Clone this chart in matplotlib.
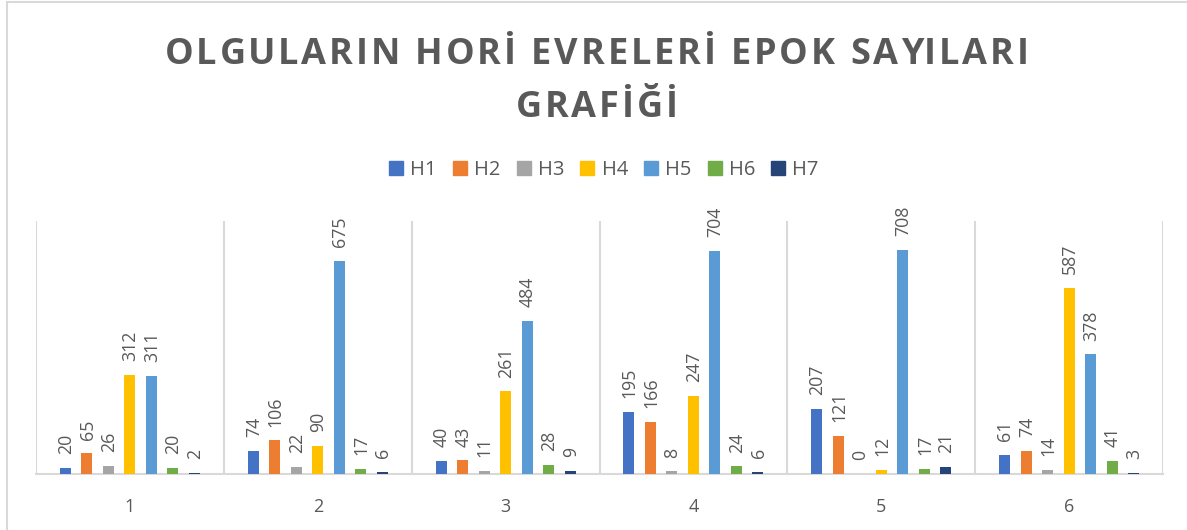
import matplotlib.pyplot as plt
import numpy as np
from matplotlib.patches import Rectangle

categories = ['1', '2', '3', '4', '5', '6']
series = ['H1', 'H2', 'H3', 'H4', 'H5', 'H6', 'H7']
H1 = [20, 74, 40, 195, 207, 61]
H2 = [65, 106, 43, 166, 121, 74]
H3 = [26, 22, 11, 8, 0, 14]
H4 = [312, 90, 261, 247, 12, 587]
H5 = [311, 675, 484, 704, 708, 378]
H6 = [20, 17, 28, 24, 17, 41]
H7 = [2, 6, 9, 6, 21, 3]
values = [H1, H2, H3, H4, H5, H6, H7]
colors = ['#4472C4', '#ED7D31', '#A5A5A5', '#FFC000', '#5B9BD5', '#70AD47', '#264478']
title_lines = ['OLGULARIN HORİ EVRELERİ EPOK SAYILARI', 'GRAFİĞİ']

plt.rcParams['font.family'] = ['Open Sans', 'DejaVu Sans']
text_color = '#595959'
grid_color = '#D9D9D9'
W, H = 1187, 530

fig = plt.figure(figsize=(W / 100, H / 100), dpi=100)
ax = fig.add_axes([36 / W, 1 - 474 / H, (1163 - 36) / W, (474 - 221) / H])

x = np.arange(1, len(categories) + 1)
pitch = 0.1145
width = 0.059

for i, (name, vals, c) in enumerate(zip(series, values, colors)):
    pos = x + (i - 3) * pitch
    bars = ax.bar(pos, vals, width=width, color=c, label=name, zorder=3)
    for b, v in zip(bars, vals):
        ax.annotate(str(v), (b.get_x() + b.get_width() / 2, v),
                    xytext=(0.5, 10), textcoords='offset points',
                    rotation=90, ha='center', va='bottom',
                    fontsize=12.8, color=text_color)

ax.set_xlim(0.5, len(categories) + 0.5)
ax.set_ylim(0, 800)
ax.vlines(np.arange(0.5, len(categories) + 1), 0, 800, color=grid_color, lw=1.5, zorder=1)
for s in ['top', 'left', 'right']:
    ax.spines[s].set_visible(False)
ax.spines['bottom'].set_color(grid_color)
ax.spines['bottom'].set_linewidth(1.5)
ax.set_yticks([])
ax.set_xticks(x)
ax.set_xticklabels(categories, fontsize=13, color=text_color)
ax.tick_params(axis='x', length=0, pad=17)


# title with letter spacing, drawn char by char
def spaced_text(s, cx, base_y, spacing, **kw):
    r = fig.canvas.get_renderer()

    def w(t):
        tt = fig.text(0, 0, t, **kw)
        e = tt.get_window_extent(r).width
        tt.remove()
        return e

    ref = w('XX')
    adv = [w('X' + s[:k] + 'X') - ref for k in range(len(s) + 1)]
    total = adv[-1] + spacing * (len(s) - 1)
    x0 = cx - total / 2
    for k, ch in enumerate(s):
        if ch == ' ':
            continue
        fig.text((x0 + adv[k] + k * spacing) / W, 1 - base_y / H, ch,
                 ha='left', va='baseline', **kw)


title_kw = dict(fontsize=26, fontweight='bold', color=text_color)
spaced_text(title_lines[0], 597, 64, 2.9, **title_kw)
spaced_text(title_lines[1], 597, 117, 2.9, **title_kw)

handles = [plt.Rectangle((0, 0), 1, 1, color=c) for c in colors]
fig.legend(handles, series, loc='center', bbox_to_anchor=(604 / W, 1 - 170 / H), ncol=7,
           frameon=False, fontsize=14.5, handlelength=0.7, handleheight=0.7,
           handletextpad=0.35, columnspacing=0.8, labelcolor=text_color)

fig.patches.append(Rectangle((7 / W, -0.1), 1.2, 1.1 - 2 / H, transform=fig.transFigure,
                             fill=False, edgecolor=grid_color, lw=1.5))

fig.savefig('out.png', dpi=100)
